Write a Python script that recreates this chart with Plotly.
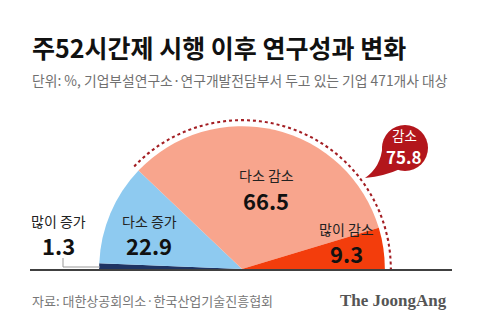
import numpy as np
import plotly.graph_objects as go

# ---- data ----
categories = ["많이 증가", "다소 증가", "다소 감소", "많이 감소"]
values = [1.3, 22.9, 66.5, 9.3]
colors = ["#1f3463", "#8ecaf0", "#f8a58d", "#f33d0c"]
decrease_label = "감소"
decrease_total = 75.8

title = "주52시간제 시행 이후 연구성과 변화"
subtitle = "단위: %, 기업부설연구소·연구개발전담부서 두고 있는 기업 471개사 대상"
source = "자료: 대한상공회의소·한국산업기술진흥협회"
brand = "The JoongAng"

KR = "Noto Sans CJK KR"
W, H = 480, 328

# half-pie: 100% -> 180 degrees
deg = 180.0 / 100.0
vals = np.array(values)
cum = np.cumsum(vals)
centers = (cum - vals / 2) * deg
widths = vals * deg

fig = go.Figure()

fig.add_trace(go.Barpolar(
    r=[1] * len(vals), theta=centers, width=widths,
    marker=dict(color=colors, line=dict(width=0)),
    hoverinfo="skip", showlegend=False,
))

# dotted arc over the "decrease" part
dec_start = (vals[0] + vals[1]) * deg
arc_theta = np.linspace(dec_start, 180, 200)
fig.add_trace(go.Scatterpolar(
    r=[1.045] * len(arc_theta), theta=arc_theta, mode="lines",
    line=dict(color="#a31d22", width=3, dash="dot"),
    hoverinfo="skip", showlegend=False,
))

# hidden pixel axes for decorations
fig.add_trace(go.Scatter(x=[0, W], y=[0, H], mode="markers",
                         marker=dict(opacity=0), hoverinfo="skip", showlegend=False))

cx, cy, R = 242, 269, 150
fig.update_layout(
    width=W, height=H,
    margin=dict(l=0, r=0, t=0, b=0),
    paper_bgcolor="white", plot_bgcolor="rgba(0,0,0,0)",
    polar=dict(
        domain=dict(x=[(cx - R) / W, (cx + R) / W], y=[(H - cy) / H, (H - cy + R) / H]),
        sector=[0, 180], hole=0, bgcolor="rgba(0,0,0,0)", bargap=0,
        radialaxis=dict(visible=False, range=[0, 1.05]),
        angularaxis=dict(visible=False, rotation=180, direction="clockwise"),
    ),
    xaxis=dict(range=[0, W], visible=False, domain=[0, 1], fixedrange=True),
    yaxis=dict(range=[H, 0], visible=False, domain=[0, 1], fixedrange=True),
    showlegend=False,
)

bubble = "#b3161c"
shapes = [
    dict(type="line", x0=30, x1=452, y0=270, y1=270, xref="x", yref="y",
         line=dict(color="black", width=1.5), layer="above"),
    dict(type="path", path="M 63 258 L 63 267 L 100 267", xref="x", yref="y",
         line=dict(color="#999999", width=1), layer="above"),
    dict(type="circle", x0=382, x1=428, y0=125, y1=171, xref="x", yref="y",
         fillcolor=bubble, line=dict(width=0), layer="above"),
    dict(type="path", path="M 382.5 146 Q 381 167 365 178 Q 385 176 400 169 Z",
         xref="x", yref="y", fillcolor=bubble, line=dict(width=0), layer="above"),
]
fig.update_layout(shapes=shapes)

def ann(x, y, text, size, color="#222", weight=400, family=KR, xanchor="center"):
    fig.add_annotation(x=x, y=y, xref="x", yref="y", text=text, showarrow=False,
                       xanchor=xanchor, yanchor="middle",
                       font=dict(family=family, size=size, color=color, weight=weight))

ann(30, 47, title, 25, "#111", 700, xanchor="left")
ann(30, 80, subtitle, 13.8, "#707070", xanchor="left")
ann(30, 300, source, 13, "#777", xanchor="left")
ann(449, 300, brand, 17, "#555", 700, family="Liberation Serif", xanchor="right")

label_pos = [(58, 221, 245), (149, 221, 245), (266, 175, 200), (346, 229, 253)]
for (x, y1, y2), name, v in zip(label_pos, categories, values):
    ann(x, y1, name, 14, "#222")
    ann(x, y2, f"{v}", 22, "#111", 700)

ann(404, 135, decrease_label, 13.5, "white")
ann(404, 156, f"{decrease_total}", 17, "white", 700)

fig.write_html("out.html")
